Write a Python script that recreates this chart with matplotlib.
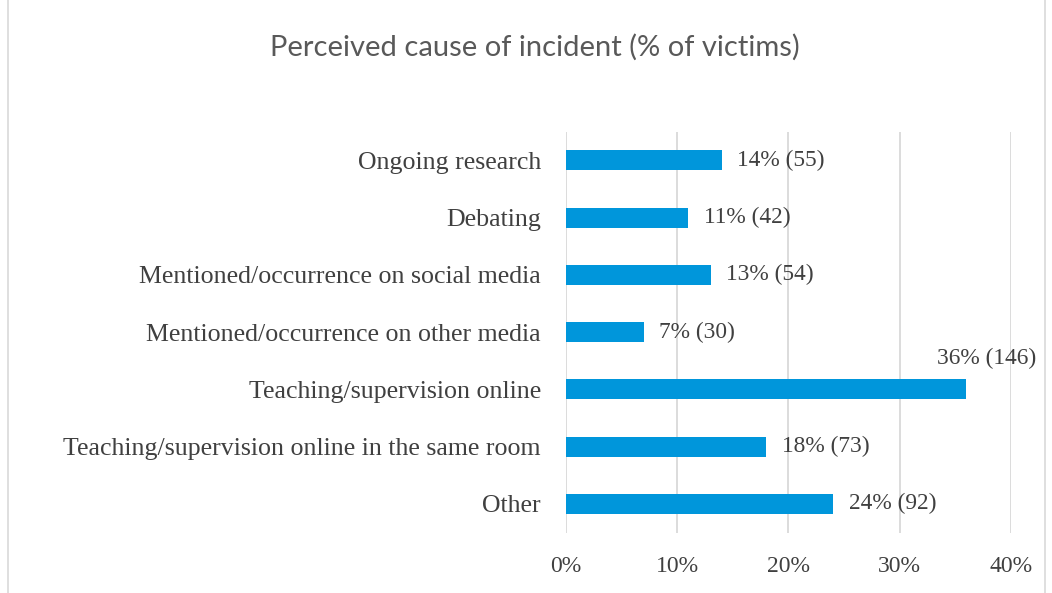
import matplotlib.pyplot as plt
from matplotlib.patches import Rectangle
from matplotlib.ticker import PercentFormatter

# data, top to bottom as in the chart
categories = [
    "Ongoing research",
    "Debating",
    "Mentioned/occurrence on social media",
    "Mentioned/occurrence on other media",
    "Teaching/supervision online",
    "Teaching/supervision online in the same room",
    "Other",
]
percents = [14, 11, 13, 7, 36, 18, 24]
counts = [55, 42, 54, 30, 146, 73, 92]
ticks = [0, 10, 20, 30, 40]

bar_color = "#0096DB"
text_color = "#404040"
serif = ["Liberation Serif", "DejaVu Serif"]

fig = plt.figure(figsize=(10.52, 5.93), dpi=100)
ax = fig.add_axes([0.538, 0.102, 0.423, 0.676])

ypos = list(range(len(categories)))[::-1]
ax.barh(ypos, percents, height=0.35, color=bar_color)

# value labels; the longest bar gets its label above the bar end
for y, p, n in zip(ypos, percents, counts):
    if p == max(percents):
        ax.text(p + 1.8, y + 0.36, f"{p}% ({n})", ha="center", va="bottom",
                fontsize=16.8, family=serif, color=text_color)
    else:
        ax.text(p + 1.4, y, f"{p}% ({n})", ha="left", va="center",
                fontsize=16.8, family=serif, color=text_color)

ax.set_xlim(0, 40)
ax.set_ylim(-0.5, 6.5)
ax.set_xticks(ticks)
ax.xaxis.set_major_formatter(PercentFormatter(decimals=0))
ax.set_yticks(ypos)
ax.set_yticklabels(categories)
for lbl in ax.get_yticklabels():
    lbl.set_family(serif)
    lbl.set_fontsize(18.6)
    lbl.set_color(text_color)
for lbl in ax.get_xticklabels():
    lbl.set_family(serif)
    lbl.set_fontsize(17)
    lbl.set_color(text_color)

ax.grid(axis="x", color="#D9D9D9", linewidth=1.3)
ax.set_axisbelow(True)
for s in ax.spines.values():
    s.set_visible(False)
ax.tick_params(length=0)
ax.tick_params(axis="y", pad=18)
ax.tick_params(axis="x", pad=17)

fig.text(0.508, 0.92, "Perceived cause of incident (% of victims)", ha="center",
         va="center", fontsize=21, family=["Lato", "DejaVu Sans"],
         color="#595959")

fig.patches.append(Rectangle((0.008, -0.01), 0.985, 1.02, transform=fig.transFigure,
                             fill=False, edgecolor="#D9D9D9", linewidth=1.2))

fig.savefig("out.png", dpi=100)
